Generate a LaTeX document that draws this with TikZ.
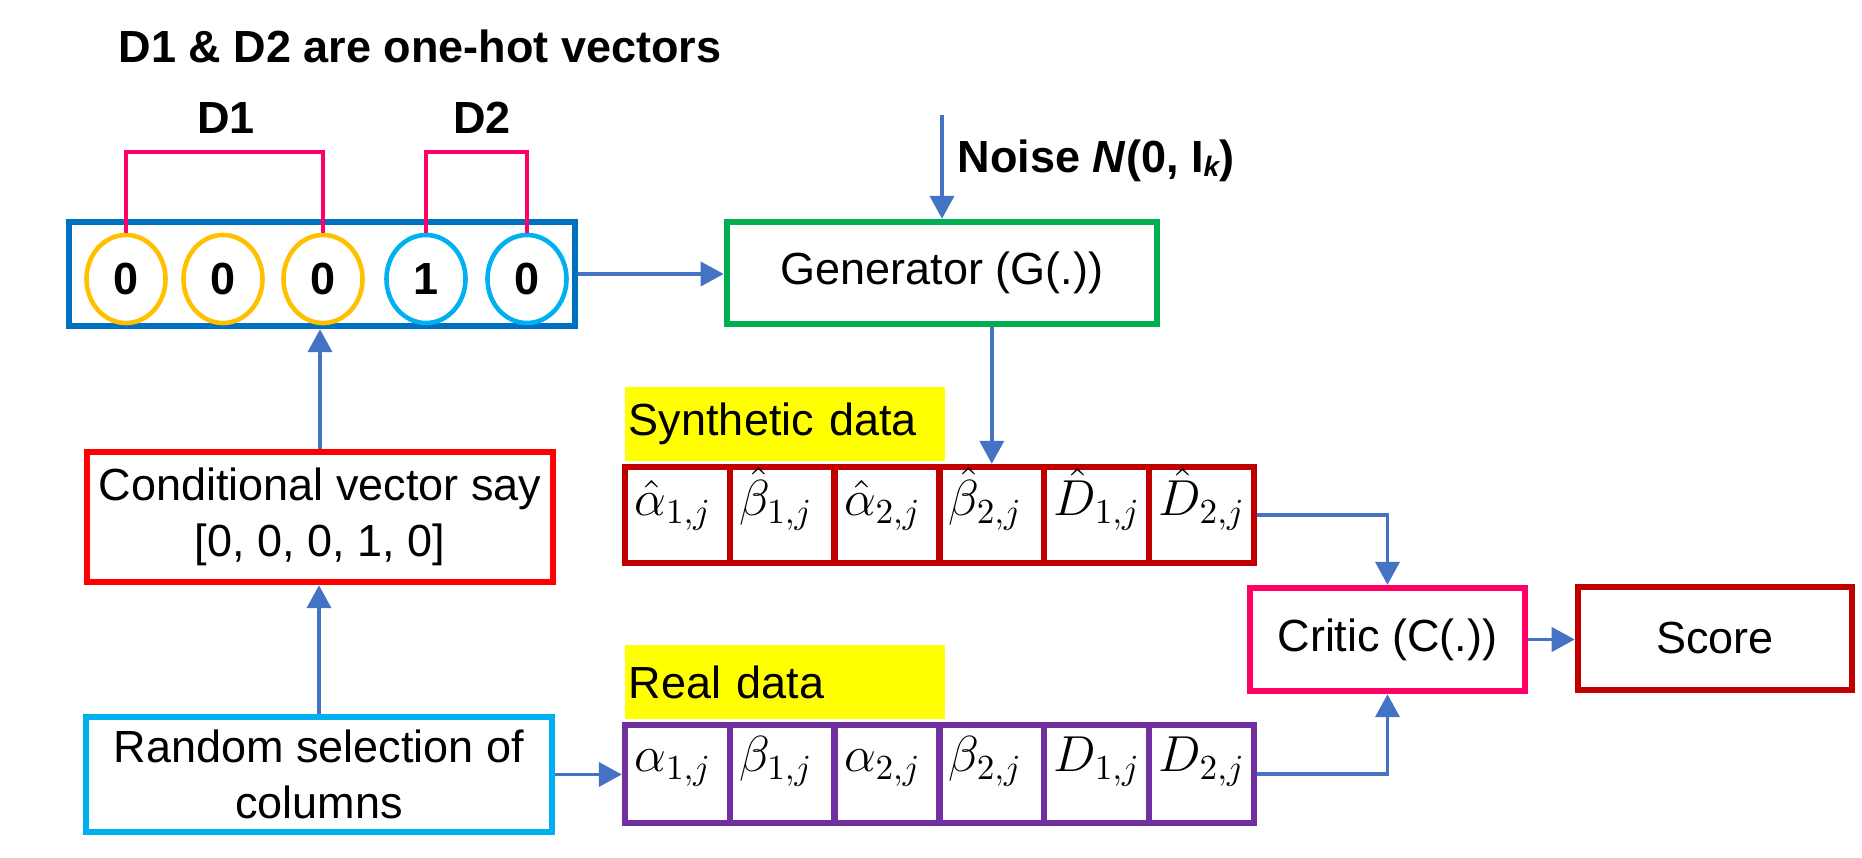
\documentclass[tikz,border=0pt]{standalone}
\usepackage[no-math]{fontspec}
\setmainfont{Liberation Sans}
\usetikzlibrary{arrows.meta,shapes.geometric}
\definecolor{arrowblue}{HTML}{4472C4}
\definecolor{boxblue}{HTML}{0070C0}
\definecolor{genGreen}{HTML}{00B050}
\definecolor{darkRed}{HTML}{C00000}
\definecolor{purp}{HTML}{7030A0}
\definecolor{mag}{HTML}{FF0066}
\definecolor{orng}{HTML}{FFC000}
\definecolor{cyanb}{HTML}{00B0F0}
\definecolor{hl}{HTML}{FFFF00}
\definecolor{pureRed}{HTML}{FF0000}
\begin{document}
\begin{tikzpicture}[x=0.01cm,y=-0.01cm,
  txt/.style={font=\fontsize{12.8}{16}\selectfont},
  btxt/.style={font=\fontsize{12.8}{16}\selectfont\bfseries},
  box/.style={draw, line width=1.8pt, rectangle, inner sep=0pt, align=center, txt},
  cell/.style={draw, line width=1.8pt, rectangle, inner sep=0pt, minimum width=1.048cm},
  bit/.style={draw, ellipse, line width=1.3pt, inner sep=0pt, minimum width=0.79cm, minimum height=0.88cm, btxt},
  brk/.style={draw=mag, line width=1.2pt},
  arr/.style={draw=arrowblue, line width=1.1pt, -{Triangle[length=0.23cm,width=0.24cm]}},
  hlbox/.style={fill=hl, inner sep=0pt, inner xsep=0.04cm, text width=3.12cm, minimum height=0.74cm, align=left, txt},
  mlab/.style={anchor=base west, inner sep=0pt, font=\fontsize{14}{16}\selectfont}]
\useasboundingbox (0,0) rectangle (1862,858);

% title and group labels
\node[btxt] (title) at (420,46) {D1 \& D2 are one-hot vectors};
\node[btxt] (d1lab) at (226,118) {D1};
\node[btxt] (d2lab) at (482,118) {D2};

% one-hot vector
\node[box, draw=boxblue, minimum width=5.06cm, minimum height=1.04cm] (vec) at (322,274) {};
\node[bit, draw=orng] (c1) at (126,279) {0};
\node[bit, draw=orng] (c2) at (223,279) {0};
\node[bit, draw=orng] (c3) at (323,279) {0};
\node[bit, draw=cyanb] (c4) at (426,279) {1};
\node[bit, draw=cyanb] (c5) at (527,279) {0};

\draw[brk] (c1.north) -- (c1.north |- 0,152) -- (c3.north |- 0,152) -- (c3.north);
\draw[brk] (c4.north) -- (c4.north |- 0,152) -- (c5.north |- 0,152) -- (c5.north);

% generator
\node[box, draw=genGreen, minimum width=4.3cm, minimum height=1.02cm] (gen) at (942,273) {Generator (G(.))};
\coordinate (noisetop) at (942,115);
\node[btxt, anchor=west, inner sep=0pt] (noise) at (957,161) {Noise \textit{N}(0, I\raisebox{-1pt}{\fontsize{8}{9}\selectfont\itshape k})};

% left column
\node[box, draw=pureRed, minimum width=4.66cm, minimum height=1.30cm] (cond) at (320,517) {Conditional vector say\\{}[0, 0, 0, 1, 0]};
\node[box, draw=cyanb, minimum width=4.66cm, minimum height=1.15cm] (rand) at (319,774.5) {Random selection of\\columns};

% synthetic data
\node[hlbox] (synlbl) at (785,424) {Synthetic data};
\foreach \i/\x in {1/677.4,2/782.2,3/887,4/991.8,5/1096.6,6/1201.4}{
  \node[cell, draw=darkRed, minimum height=0.96cm] (s\i) at (\x,515) {};
}
\node[mlab] (ls1) at ([xshift=0.12cm,yshift=-0.52cm]s1.north west) {$\hat{\alpha}_{1,j}$};
\node[mlab] (ls2) at ([xshift=0.12cm,yshift=-0.52cm]s2.north west) {$\hat{\beta}_{1,j}$};
\node[mlab] (ls3) at ([xshift=0.12cm,yshift=-0.52cm]s3.north west) {$\hat{\alpha}_{2,j}$};
\node[mlab] (ls4) at ([xshift=0.12cm,yshift=-0.52cm]s4.north west) {$\hat{\beta}_{2,j}$};
\node[mlab] (ls5) at ([xshift=0.12cm,yshift=-0.52cm]s5.north west) {$\hat{D}_{1,j}$};
\node[mlab] (ls6) at ([xshift=0.12cm,yshift=-0.52cm]s6.north west) {$\hat{D}_{2,j}$};

% real data
\node[hlbox] (reallbl) at (785,682) {Real data};
\foreach \i/\x in {1/677.4,2/782.2,3/887,4/991.8,5/1096.6,6/1201.4}{
  \node[cell, draw=purp, minimum height=0.98cm] (r\i) at (\x,774) {};
}
\node[mlab] (lr1) at ([xshift=0.12cm,yshift=-0.5cm]r1.north west) {$\alpha_{1,j}$};
\node[mlab] (lr2) at ([xshift=0.12cm,yshift=-0.5cm]r2.north west) {$\beta_{1,j}$};
\node[mlab] (lr3) at ([xshift=0.12cm,yshift=-0.5cm]r3.north west) {$\alpha_{2,j}$};
\node[mlab] (lr4) at ([xshift=0.12cm,yshift=-0.5cm]r4.north west) {$\beta_{2,j}$};
\node[mlab] (lr5) at ([xshift=0.12cm,yshift=-0.5cm]r5.north west) {$D_{1,j}$};
\node[mlab] (lr6) at ([xshift=0.12cm,yshift=-0.5cm]r6.north west) {$D_{2,j}$};

% critic and score
\node[box, draw=mag, minimum width=2.75cm, minimum height=1.03cm] (critic) at (1387.5,639.5) {Critic (C(.))};
\node[box, draw=darkRed, minimum width=2.74cm, minimum height=1.03cm] (score) at (1715,638.5) {Score};

% connectors
\draw[arr] (vec.east) -- (vec.east -| gen.west);
\draw[arr] (noisetop) -- (gen.north);
\draw[arr] (s4.north |- gen.south) -- (s4.north);
\draw[arr] (cond.north) -- (cond.north |- vec.south);
\draw[arr] (rand.north) -- (rand.north |- cond.south);
\draw[arr] (rand.east) -- (rand.east -| r1.west);
\draw[arr] (s6.east) -| (critic.north);
\draw[arr] (r6.east) -| (critic.south);
\draw[arr] (critic.east) -- (critic.east -| score.west);
\end{tikzpicture}
\end{document}
